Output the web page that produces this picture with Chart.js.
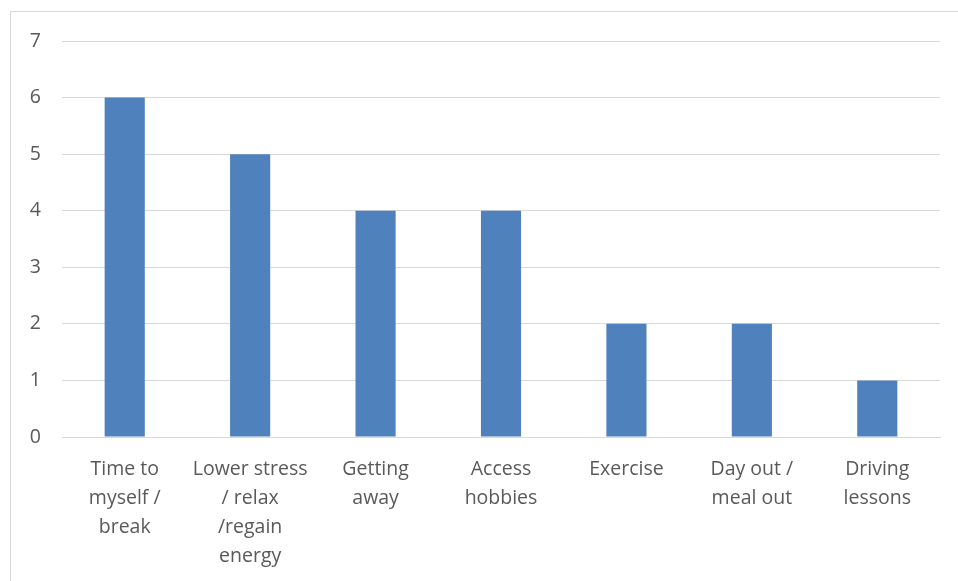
<!DOCTYPE html>
<html>
<head>
<meta charset="utf-8">
<script src="https://cdn.jsdelivr.net/npm/chart.js@4"></script>
<style>
  html, body { margin: 0; padding: 0; background: #fff; }
  #wrap { position: relative; width: 958px; height: 581px; overflow: hidden; }
  #frame { position: absolute; left: 10px; top: 11px; width: 980px; height: 600px; border: 1px solid #d9d9d9; box-sizing: border-box; }
  canvas { position: absolute; left: 0; top: 0; }
</style>
</head>
<body>
<div id="wrap">
  <div id="frame"></div>
  <canvas id="myChart" width="958" height="581"></canvas>
</div>
<script>
const categories = [
    ['Time to', 'myself /', 'break'],
    ['Lower stress', '/ relax', '/regain', 'energy'],
    ['Getting', 'away'],
    ['Access', 'hobbies'],
    ['Exercise'],
    ['Day out /', 'meal out'],
    ['Driving', 'lessons']
];
const counts = [6, 5, 4, 4, 2, 2, 1];
const yTicks = [0, 1, 2, 3, 4, 5, 6, 7];

document.addEventListener('DOMContentLoaded', function() {
    const font = { family: '"Open Sans", sans-serif', size: 19.5, lineHeight: 1.49 };

    const config = {
        type: 'bar',
        data: {
            labels: categories,
            datasets: [{
                label: 'Count',
                data: counts,
                backgroundColor: '#4f81bd',
                borderWidth: 0,
                barPercentage: 0.32,
                categoryPercentage: 1
            }]
        },
        options: {
            responsive: false,
            animation: false,
            layout: { padding: { left: 0, top: 41, right: 18, bottom: 0 } },
            plugins: {
                legend: { display: false },
                tooltip: { enabled: false }
            },
            scales: {
                x: {
                    grid: { display: false, drawTicks: false },
                    border: { color: '#d9d9d9', width: 1 },
                    ticks: { color: '#595959', font: font, padding: 18, maxRotation: 0, autoSkip: false },
                    afterFit: function(scale) { scale.height = 144; }
                },
                y: {
                    min: 0,
                    max: 7,
                    afterBuildTicks: function(scale) {
                        scale.ticks = yTicks.map(v => ({ value: v }));
                    },
                    grid: { color: '#d9d9d9', lineWidth: 1, drawTicks: false },
                    border: { display: false },
                    ticks: { color: '#595959', font: { family: '"Open Sans", sans-serif', size: 19.5 }, padding: 21 },
                    afterFit: function(scale) { scale.width = 62; }
                }
            }
        }
    };

    const ctx = document.getElementById('myChart').getContext('2d');
    new Chart(ctx, config);
});
</script>
</body>
</html>
